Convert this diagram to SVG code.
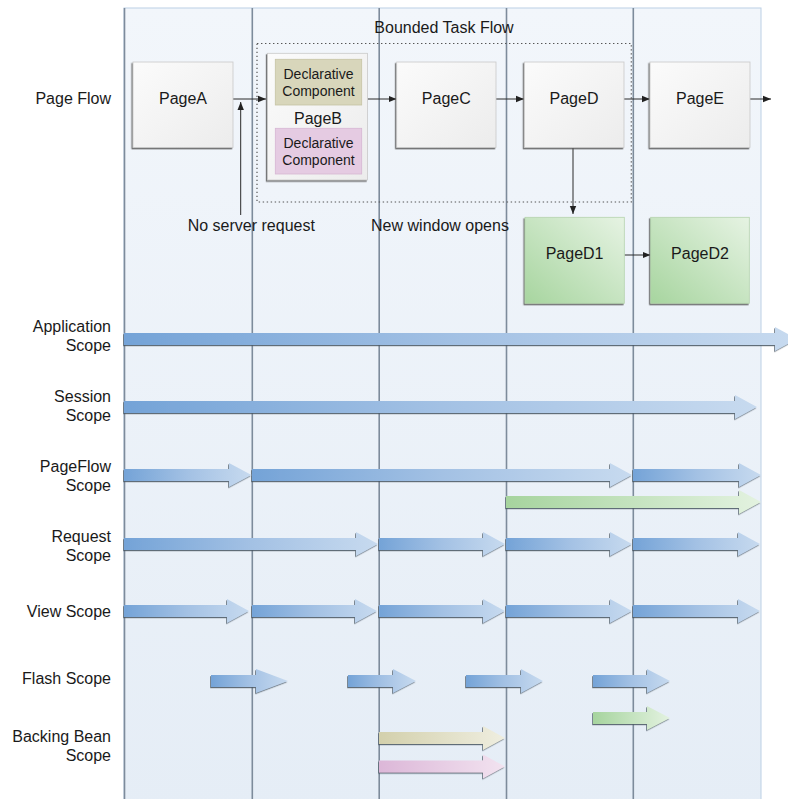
<svg xmlns="http://www.w3.org/2000/svg" width="788" height="799" viewBox="0 0 788 799">
  <defs>
    <style>
      text { font-family: "Liberation Sans", Arial, Helvetica, sans-serif; fill: #1a1a1a; }
      .lbl { font-size: 16px; }
      .lbl-r { font-size: 16px; text-anchor: end; }
      .pg { font-size: 16px; text-anchor: middle; }
      .dc { font-size: 14px; text-anchor: middle; }
      .vline { stroke: #7d8b9b; stroke-width: 1.6; fill: none; }
      .page { fill: url(#gPage); stroke: #c9c9c9; stroke-width: 0.8; filter: url(#shadow); }
      .pageG { fill: url(#gGreenBox); stroke: #b5d3ae; stroke-width: 0.8; filter: url(#shadow); }
      .conn { stroke: #2b2b2b; stroke-width: 1; fill: none; marker-end: url(#ah); }
      .arr { filter: url(#ashadow); }
      .blue { fill: url(#gBlue); }
      .green { fill: url(#gGreen); }
      .olive { fill: url(#gOlive); }
      .pink { fill: url(#gPink); }
    </style>
    <linearGradient id="gPanel" x1="0" y1="0" x2="0" y2="1">
      <stop offset="0" stop-color="#f2f6fb"/>
      <stop offset="1" stop-color="#e5edf6"/>
    </linearGradient>
    <linearGradient id="gPage" x1="0" y1="0" x2="1" y2="1">
      <stop offset="0" stop-color="#fbfbfb"/>
      <stop offset="1" stop-color="#ececec"/>
    </linearGradient>
    <linearGradient id="gGreenBox" x1="0" y1="1" x2="1" y2="0">
      <stop offset="0" stop-color="#a7d59f"/>
      <stop offset="1" stop-color="#e6f3e3"/>
    </linearGradient>
    <linearGradient id="gBlue" x1="0" y1="0" x2="1" y2="0">
      <stop offset="0" stop-color="#74a3d7"/>
      <stop offset="0.5" stop-color="#a3c1e4"/>
      <stop offset="1" stop-color="#c7daef"/>
    </linearGradient>
    <linearGradient id="gGreen" x1="0" y1="0" x2="1" y2="0">
      <stop offset="0" stop-color="#a6d49e"/>
      <stop offset="1" stop-color="#e3f2e0"/>
    </linearGradient>
    <linearGradient id="gOlive" x1="0" y1="0" x2="1" y2="0">
      <stop offset="0" stop-color="#d3d0ac"/>
      <stop offset="1" stop-color="#efeee0"/>
    </linearGradient>
    <linearGradient id="gPink" x1="0" y1="0" x2="1" y2="0">
      <stop offset="0" stop-color="#dcb7d8"/>
      <stop offset="1" stop-color="#f2e3f0"/>
    </linearGradient>
    <filter id="shadow" x="-10%" y="-10%" width="120%" height="120%">
      <feDropShadow dx="-1.2" dy="1.4" stdDeviation="0.6" flood-color="#555555" flood-opacity="0.85"/>
    </filter>
    <filter id="ashadow" x="-5%" y="-20%" width="110%" height="140%">
      <feDropShadow dx="-0.8" dy="1.2" stdDeviation="0.4" flood-color="#4a5560" flood-opacity="0.85"/>
    </filter>
    <marker id="ah" viewBox="0 0 8 8" refX="8" refY="4" markerWidth="8" markerHeight="8" markerUnits="userSpaceOnUse" orient="auto">
      <path d="M0,0.8 L8,4 L0,7.2 Z" fill="#222"/>
    </marker>
  </defs>

  <rect width="788" height="799" fill="#ffffff"/>

  <!-- swimlane panel -->
  <g id="panel">
    <rect x="124" y="8" width="637" height="800" fill="url(#gPanel)" stroke="#bcd0e5" stroke-width="1"/>
    <line class="vline" x1="124.5" y1="8" x2="124.5" y2="799"/>
    <line class="vline" x1="252.3" y1="8" x2="252.3" y2="799"/>
    <line class="vline" x1="379.2" y1="8" x2="379.2" y2="799"/>
    <line class="vline" x1="506.5" y1="8" x2="506.5" y2="799"/>
    <line class="vline" x1="633.3" y1="8" x2="633.3" y2="799"/>
  </g>

  <!-- row labels -->
  <g id="labels">
    <text class="lbl-r" x="111" y="104">Page Flow</text>
    <text class="lbl-r" x="111" y="332">Application</text>
    <text class="lbl-r" x="111" y="351">Scope</text>
    <text class="lbl-r" x="111" y="402">Session</text>
    <text class="lbl-r" x="111" y="421">Scope</text>
    <text class="lbl-r" x="111" y="472">PageFlow</text>
    <text class="lbl-r" x="111" y="491">Scope</text>
    <text class="lbl-r" x="111" y="542">Request</text>
    <text class="lbl-r" x="111" y="561">Scope</text>
    <text class="lbl-r" x="111" y="617">View Scope</text>
    <text class="lbl-r" x="111" y="684">Flash Scope</text>
    <text class="lbl-r" x="111" y="742">Backing Bean</text>
    <text class="lbl-r" x="111" y="761">Scope</text>
  </g>

  <!-- bounded task flow -->
  <g id="bounded-task-flow">
    <rect x="257" y="43.5" width="374.3" height="158.5" fill="none" stroke="#555" stroke-width="1.2" stroke-dasharray="1.4 2.6"/>
    <text class="pg" x="444" y="33">Bounded Task Flow</text>
  </g>

  <!-- connectors -->
  <g id="connectors">
    <line class="conn" x1="233" y1="99" x2="266" y2="99"/>
    <line class="conn" x1="367.5" y1="99" x2="396.5" y2="99"/>
    <line class="conn" x1="496" y1="99" x2="524" y2="99"/>
    <line class="conn" x1="624" y1="99" x2="650" y2="99"/>
    <line class="conn" x1="750" y1="99" x2="771" y2="99"/>
    <line class="conn" x1="240.7" y1="215" x2="240.7" y2="102"/>
    <line class="conn" x1="573" y1="148" x2="573" y2="214"/>
    <line class="conn" x1="624.5" y1="255" x2="650.5" y2="255"/>
  </g>

  <!-- page nodes -->
  <g id="PageA">
    <rect class="page" x="133" y="62" width="100" height="85.5"/>
    <text class="pg" x="183" y="104">PageA</text>
  </g>
  <g id="PageB">
    <rect class="page" x="267.5" y="53.3" width="100" height="126.7"/>
    <rect x="275.3" y="59.3" width="86.4" height="45.7" fill="#d8d6bb" stroke="#c6c4a4" stroke-width="0.8"/>
    <text class="dc" x="318.5" y="79">Declarative</text>
    <text class="dc" x="318.5" y="96">Component</text>
    <text class="pg" x="318" y="124">PageB</text>
    <rect x="275.3" y="128.3" width="86.4" height="45.7" fill="#e5cbe2" stroke="#d6b6d3" stroke-width="0.8"/>
    <text class="dc" x="318.5" y="148">Declarative</text>
    <text class="dc" x="318.5" y="165">Component</text>
  </g>
  <g id="PageC">
    <rect class="page" x="396.7" y="62" width="99.3" height="85.5"/>
    <text class="pg" x="446.3" y="104">PageC</text>
  </g>
  <g id="PageD">
    <rect class="page" x="524.3" y="62" width="99.7" height="85.5"/>
    <text class="pg" x="574" y="104">PageD</text>
  </g>
  <g id="PageE">
    <rect class="page" x="650" y="62" width="100" height="85.5"/>
    <text class="pg" x="700" y="104">PageE</text>
  </g>
  <g id="PageD1">
    <rect class="pageG" x="525" y="217.3" width="99.3" height="86"/>
    <text class="pg" x="574.6" y="259">PageD1</text>
  </g>
  <g id="PageD2">
    <rect class="pageG" x="650.7" y="217.3" width="98.6" height="86"/>
    <text class="pg" x="700" y="259">PageD2</text>
  </g>

  <!-- annotations -->
  <g id="annotations">
    <text class="pg" x="251.3" y="231">No server request</text>
    <text class="pg" x="440" y="231">New window opens</text>
  </g>

  <!-- scope bars -->
  <g id="application-scope" class="arr">
    <path class="blue" d="M124,333 L775,333 L775,327 L797,339 L775,351 L775,345 L124,345 Z"/>
  </g>
  <g id="session-scope" class="arr">
    <path class="blue" d="M124,401 L735,401 L735,395 L757,407 L735,419 L735,413 L124,413 Z"/>
  </g>
  <g id="pageflow-scope" class="arr">
    <path class="blue" d="M124,469 L229,469 L229,463 L251.5,475 L229,487 L229,481 L124,481 Z"/>
    <path class="blue" d="M252,469 L610,469 L610,463 L632,475 L610,487 L610,481 L252,481 Z"/>
    <path class="blue" d="M633,469 L739,469 L739,463 L761,475 L739,487 L739,481 L633,481 Z"/>
    <path class="green" d="M506,496 L739,496 L739,490 L761,502 L739,514 L739,508 L506,508 Z"/>
  </g>
  <g id="request-scope" class="arr">
    <path class="blue" d="M124,538 L356,538 L356,532 L378,544 L356,556 L356,550 L124,550 Z"/>
    <path class="blue" d="M379,538 L483,538 L483,532 L505,544 L483,556 L483,550 L379,550 Z"/>
    <path class="blue" d="M506,538 L610,538 L610,532 L632,544 L610,556 L610,550 L506,550 Z"/>
    <path class="blue" d="M633,538 L738,538 L738,532 L760,544 L738,556 L738,550 L633,550 Z"/>
  </g>
  <g id="view-scope" class="arr">
    <path class="blue" d="M124,605 L227,605 L227,599 L249,611 L227,623 L227,617 L124,617 Z"/>
    <path class="blue" d="M252,605 L355,605 L355,599 L377,611 L355,623 L355,617 L252,617 Z"/>
    <path class="blue" d="M379,605 L483,605 L483,599 L505,611 L483,623 L483,617 L379,617 Z"/>
    <path class="blue" d="M506,605 L610,605 L610,599 L632,611 L610,623 L610,617 L506,617 Z"/>
    <path class="blue" d="M633,605 L738,605 L738,599 L760,611 L738,623 L738,617 L633,617 Z"/>
  </g>
  <g id="flash-scope" class="arr">
    <path class="blue" d="M211,675 L256,675 L256,669 L288,681 L256,693 L256,687 L211,687 Z"/>
    <path class="blue" d="M348,675 L393,675 L393,669 L416,681 L393,693 L393,687 L348,687 Z"/>
    <path class="blue" d="M466,675 L521,675 L521,669 L543,681 L521,693 L521,687 L466,687 Z"/>
    <path class="blue" d="M593,675 L647,675 L647,669 L670,681 L647,693 L647,687 L593,687 Z"/>
    <path class="green" d="M593,712 L647,712 L647,706 L670,718 L647,730 L647,724 L593,724 Z"/>
  </g>
  <g id="backing-bean-scope" class="arr">
    <path class="olive" d="M379,732 L483,732 L483,726 L505,738 L483,750 L483,744 L379,744 Z"/>
    <path class="pink" d="M379,760.5 L483,760.5 L483,754.5 L505,766.5 L483,778.5 L483,772.5 L379,772.5 Z"/>
  </g>
</svg>
